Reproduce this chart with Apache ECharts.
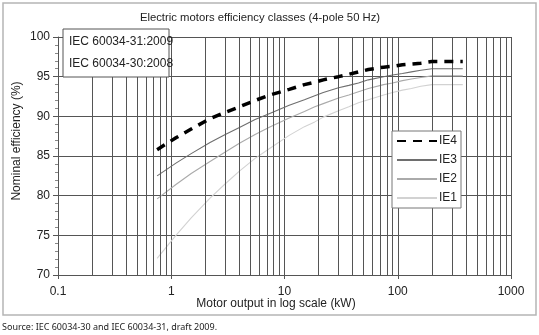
<!DOCTYPE html>
<html>
<head>
<meta charset="utf-8">
<script src="https://cdn.jsdelivr.net/npm/echarts@6/dist/echarts.min.js"></script>
<style>html,body{margin:0;padding:0;background:#fff;}#c{width:539px;height:335px;}</style>
</head>
<body>
<div id="c"></div>
<script>
const powerKW = [0.75,1.1,1.5,2.2,3,4,5.5,7.5,11,15,18.5,22,30,37,45,55,75,90,110,132,160,200,250,315,355,375];
const IE4 = [85.8,87.3,88.4,89.7,90.5,91.2,92.0,92.7,93.4,94.0,94.3,94.6,95.0,95.3,95.6,95.9,96.2,96.3,96.5,96.6,96.7,96.9,96.9,96.9,96.9,96.9];
const IE3 = [82.5,84.1,85.3,86.7,87.7,88.6,89.6,90.4,91.4,92.1,92.6,93.0,93.6,93.9,94.2,94.6,95.0,95.2,95.4,95.6,95.8,96.0,96.0,96.0,96.0,96.0];
const IE2 = [79.6,81.4,82.8,84.3,85.5,86.6,87.7,88.7,89.8,90.6,91.2,91.6,92.3,92.7,93.1,93.5,94.0,94.2,94.5,94.7,94.9,95.1,95.1,95.1,95.1,95.1];
const IE1 = [72.1,75.0,77.2,79.7,81.5,83.1,84.7,86.0,87.6,88.7,89.3,89.9,90.7,91.2,91.7,92.1,92.7,93.0,93.3,93.5,93.8,94.0,94.0,94.0,94.0,94.0];
const minorGridX = [0.2,0.3,0.4,0.5,0.6,0.7,0.8,0.9,2,3,4,5,6,7,8,9,20,30,40,50,60,70,80,90,200,300,400,500,600,700,800,900];
const seriesNames = ['IE4','IE3','IE2','IE1'];
const titleText = 'Electric motors efficiency classes (4-pole 50 Hz)';
const xName = 'Motor output in log scale (kW)';
const yName = 'Nominal efficiency (%)';
const boxLines = ['IEC 60034-31:2009','IEC 60034-30:2008'];
const sourceText = 'Source: IEC 60034-30 and IEC 60034-31, draft 2009.';

const FONT = 'Liberation Sans, Arial, sans-serif';
const GRID = '#555';
const pairs = arr => powerKW.map((p,i)=>[p,arr[i]]);

const chart = echarts.init(document.getElementById('c'), null, {renderer:'canvas'});
chart.setOption({
  animation:false,
  backgroundColor:'#fff',
  textStyle:{fontFamily:FONT},
  grid:{left:58,right:28,top:37,bottom:60,containLabel:false},
  xAxis:{
    type:'log', logBase:10, min:0.1, max:1000,
    axisLine:{show:true,lineStyle:{color:GRID,width:1}},
    axisTick:{show:true,length:4,lineStyle:{color:GRID}},
    axisLabel:{color:'#222',fontSize:12,margin:11,fontFamily:FONT,formatter:v=>String(v)},
    splitLine:{show:true,lineStyle:{color:GRID,width:1}},
    minorTick:{show:false},minorSplitLine:{show:false}
  },
  yAxis:{
    type:'value', min:70, max:100, interval:5,
    axisLine:{show:true,lineStyle:{color:GRID,width:1}},
    axisTick:{show:true,length:5,lineStyle:{color:GRID}},
    minorTick:{show:true,splitNumber:5,length:3,lineStyle:{color:'#888'}},
    axisLabel:{color:'#222',fontSize:12,margin:8,fontFamily:FONT},
    splitLine:{show:true,lineStyle:{color:GRID,width:1}}
  },
  legend:{
    data:seriesNames,
    orient:'vertical',
    left:392, top:131,
    itemWidth:40, itemHeight:8, itemGap:7,
    padding:[4,4,4,4],
    backgroundColor:'#fff',
    borderColor:'#777', borderWidth:1, borderRadius:0,
    itemStyle:{opacity:0},
    textStyle:{color:'#222',fontSize:12,fontFamily:FONT,padding:[0,0,0,-3]},
    z:10
  },
  series:[
    {name:'grid', type:'line', data:[], z:1, silent:true,
      markLine:{silent:true,symbol:['none','none'],label:{show:false},
        lineStyle:{color:GRID,width:1,type:'solid'},
        emphasis:{disabled:true},
        data:minorGridX.map(v=>({xAxis:v}))}},
    {name:'IE4',type:'line',data:pairs(IE4),showSymbol:false,symbol:'none',z:5,
      lineStyle:{color:'#000',width:3.5,type:[9,7]},itemStyle:{color:'#000'}},
    {name:'IE3',type:'line',data:pairs(IE3),showSymbol:false,symbol:'none',z:4,
      lineStyle:{color:'#6e6e6e',width:1.1},itemStyle:{color:'#6e6e6e'}},
    {name:'IE2',type:'line',data:pairs(IE2),showSymbol:false,symbol:'none',z:4,
      lineStyle:{color:'#aaaaaa',width:1.1},itemStyle:{color:'#aaaaaa'}},
    {name:'IE1',type:'line',data:pairs(IE1),showSymbol:false,symbol:'none',z:4,
      lineStyle:{color:'#d2d2d2',width:1.1},itemStyle:{color:'#d2d2d2'}}
  ],
  graphic:[
    {type:'rect',shape:{x:3,y:3,width:533,height:312},style:{fill:'none',stroke:'#b5b5b5',lineWidth:1.5},z:0,silent:true},
    {type:'text',x:260,y:18,style:{text:titleText,font:'11.3px '+FONT,fill:'#222',textAlign:'center',textVerticalAlign:'middle'},z:10},
    {type:'rect',shape:{x:63,y:29,width:106,height:48},style:{fill:'#fff',stroke:'#555',lineWidth:1},z:20},
    {type:'text',x:69,y:42,style:{text:boxLines[0],font:'12px '+FONT,fill:'#222',textVerticalAlign:'middle'},z:21},
    {type:'text',x:69,y:64,style:{text:boxLines[1],font:'12px '+FONT,fill:'#222',textVerticalAlign:'middle'},z:21},
    {type:'text',x:276,y:304,style:{text:xName,font:'12px '+FONT,fill:'#222',textAlign:'center',textVerticalAlign:'middle'},z:10},
    {type:'text',x:17,y:141,rotation:Math.PI/2,style:{text:yName,font:'12px '+FONT,fill:'#222',textAlign:'center',textVerticalAlign:'middle'},z:10},
    {type:'text',x:2,y:327,style:{text:sourceText,font:'9px "Noto Sans", sans-serif',fill:'#222',textVerticalAlign:'middle'},z:10}
  ]
});
</script>
</body>
</html>
